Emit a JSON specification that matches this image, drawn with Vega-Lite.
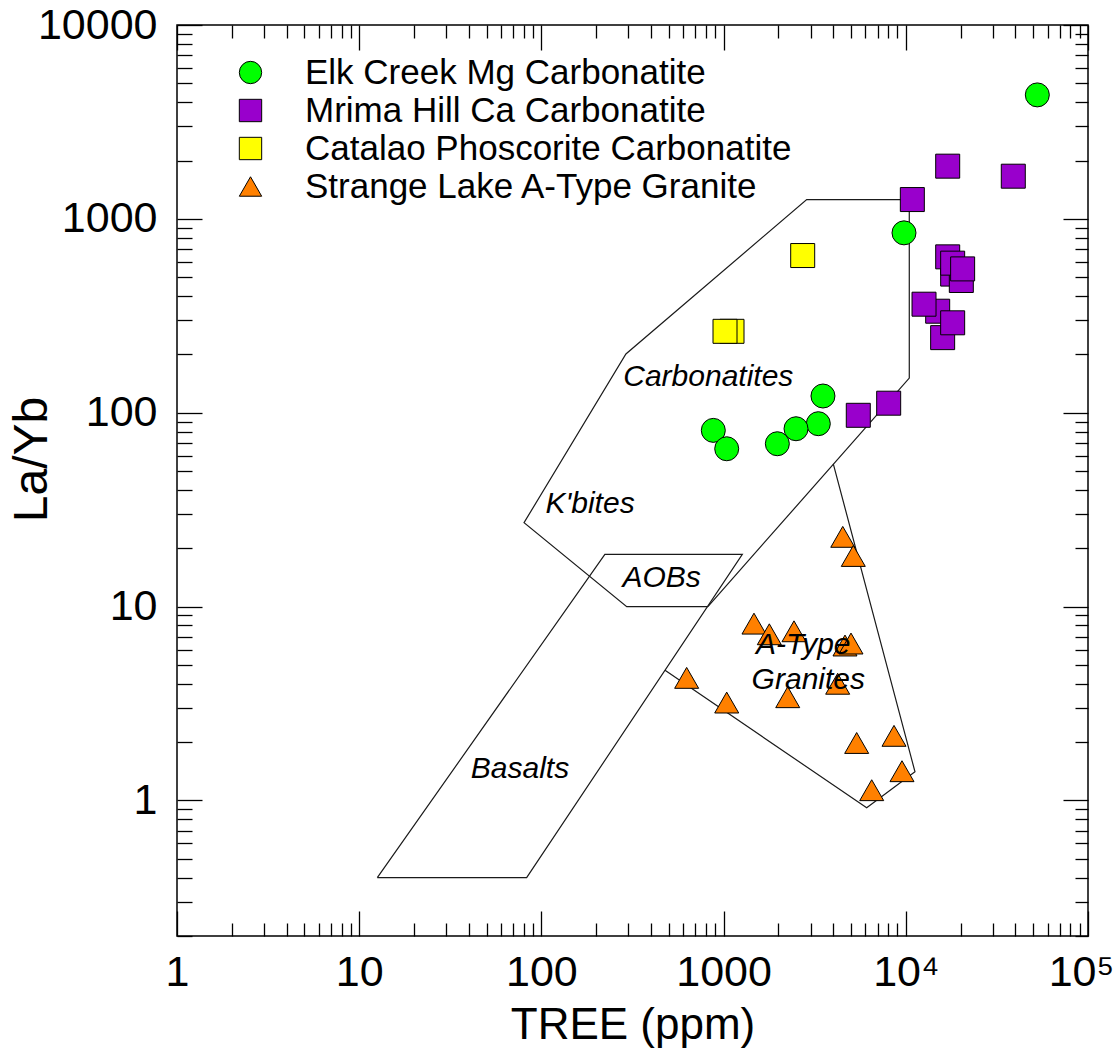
{
  "$schema": "https://vega.github.io/schema/vega-lite/v6.json",
  "width": 911,
  "height": 911,
  "autosize": {"type": "none"},
  "padding": {"left": 177, "top": 25, "right": 31, "bottom": 114},
  "background": "white",
  "config": {
    "font": "Liberation Sans",
    "view": {"stroke": "black", "strokeWidth": 1.5},
    "axis": {"grid": false, "domain": false, "tickColor": "black", "tickWidth": 1.3, "labelFont": "Liberation Sans", "titleFont": "Liberation Sans", "labelColor": "black", "titleColor": "black", "titleFontWeight": "normal", "labelFontSize": 43, "labelFlush": false, "labelOverlap": false},
    "legend": {"orient": "none", "legendX": 56, "legendY": 30, "labelFont": "Liberation Sans", "labelFontSize": 35, "labelColor": "black", "symbolSize": 500, "symbolStrokeColor": "black", "symbolStrokeWidth": 1, "rowPadding": 2, "labelOffset": 37, "padding": 0, "labelLimit": 0}
  },
  "datasets": {
    "outlines": [
      {"poly": "field", "i": 0, "TREE": 820, "LaYb": 10},
      {"poly": "field", "i": 1, "TREE": 10450, "LaYb": 151},
      {"poly": "field", "i": 2, "TREE": 10450, "LaYb": 1257},
      {"poly": "field", "i": 3, "TREE": 2858, "LaYb": 1257},
      {"poly": "field", "i": 4, "TREE": 291, "LaYb": 201},
      {"poly": "field", "i": 5, "TREE": 80.3, "LaYb": 27.1},
      {"poly": "field", "i": 6, "TREE": 294, "LaYb": 10},
      {"poly": "field", "i": 7, "TREE": 820, "LaYb": 10},
      {"poly": "basalts", "i": 0, "TREE": 12.57, "LaYb": 0.4},
      {"poly": "basalts", "i": 1, "TREE": 83, "LaYb": 0.4},
      {"poly": "basalts", "i": 2, "TREE": 1267, "LaYb": 18.6},
      {"poly": "basalts", "i": 3, "TREE": 223, "LaYb": 18.6},
      {"poly": "basalts", "i": 4, "TREE": 12.57, "LaYb": 0.4},
      {"poly": "atype", "i": 0, "TREE": 4000, "LaYb": 54.5},
      {"poly": "atype", "i": 1, "TREE": 11230, "LaYb": 1.406},
      {"poly": "atype", "i": 2, "TREE": 6100, "LaYb": 0.917},
      {"poly": "atype", "i": 3, "TREE": 477, "LaYb": 4.69}
    ],
    "samples": [
      {"group": "Elk Creek Mg Carbonatite", "TREE": 52700, "LaYb": 4360},
      {"group": "Elk Creek Mg Carbonatite", "TREE": 9775, "LaYb": 847},
      {"group": "Elk Creek Mg Carbonatite", "TREE": 3510, "LaYb": 122},
      {"group": "Elk Creek Mg Carbonatite", "TREE": 3310, "LaYb": 87.8},
      {"group": "Elk Creek Mg Carbonatite", "TREE": 2497, "LaYb": 82.7},
      {"group": "Elk Creek Mg Carbonatite", "TREE": 1972, "LaYb": 69.2},
      {"group": "Elk Creek Mg Carbonatite", "TREE": 878, "LaYb": 81.1},
      {"group": "Elk Creek Mg Carbonatite", "TREE": 1040, "LaYb": 65.2},
      {"group": "Mrima Hill Ca Carbonatite", "TREE": 16980, "LaYb": 1870},
      {"group": "Mrima Hill Ca Carbonatite", "TREE": 38900, "LaYb": 1660},
      {"group": "Mrima Hill Ca Carbonatite", "TREE": 10860, "LaYb": 1258},
      {"group": "Mrima Hill Ca Carbonatite", "TREE": 18080, "LaYb": 519},
      {"group": "Mrima Hill Ca Carbonatite", "TREE": 20170, "LaYb": 481},
      {"group": "Mrima Hill Ca Carbonatite", "TREE": 16980, "LaYb": 637},
      {"group": "Mrima Hill Ca Carbonatite", "TREE": 18080, "LaYb": 591},
      {"group": "Mrima Hill Ca Carbonatite", "TREE": 20510, "LaYb": 552},
      {"group": "Mrima Hill Ca Carbonatite", "TREE": 14960, "LaYb": 334},
      {"group": "Mrima Hill Ca Carbonatite", "TREE": 15930, "LaYb": 244},
      {"group": "Mrima Hill Ca Carbonatite", "TREE": 12590, "LaYb": 363},
      {"group": "Mrima Hill Ca Carbonatite", "TREE": 18080, "LaYb": 291},
      {"group": "Mrima Hill Ca Carbonatite", "TREE": 8055, "LaYb": 112},
      {"group": "Mrima Hill Ca Carbonatite", "TREE": 5486, "LaYb": 97},
      {"group": "Catalao Phoscorite Carbonatite", "TREE": 2717, "LaYb": 647},
      {"group": "Catalao Phoscorite Carbonatite", "TREE": 1112, "LaYb": 263},
      {"group": "Catalao Phoscorite Carbonatite", "TREE": 1018, "LaYb": 263},
      {"group": "Strange Lake A-Type Granite", "TREE": 4508, "LaYb": 22.9},
      {"group": "Strange Lake A-Type Granite", "TREE": 5150, "LaYb": 18.25},
      {"group": "Strange Lake A-Type Granite", "TREE": 1468, "LaYb": 8.17},
      {"group": "Strange Lake A-Type Granite", "TREE": 1782, "LaYb": 7.2},
      {"group": "Strange Lake A-Type Granite", "TREE": 2434, "LaYb": 7.46},
      {"group": "Strange Lake A-Type Granite", "TREE": 4637, "LaYb": 6.3},
      {"group": "Strange Lake A-Type Granite", "TREE": 5003, "LaYb": 6.45},
      {"group": "Strange Lake A-Type Granite", "TREE": 627, "LaYb": 4.29},
      {"group": "Strange Lake A-Type Granite", "TREE": 1040, "LaYb": 3.2},
      {"group": "Strange Lake A-Type Granite", "TREE": 2249, "LaYb": 3.41},
      {"group": "Strange Lake A-Type Granite", "TREE": 4228, "LaYb": 4.0},
      {"group": "Strange Lake A-Type Granite", "TREE": 5375, "LaYb": 1.98},
      {"group": "Strange Lake A-Type Granite", "TREE": 8616, "LaYb": 2.155},
      {"group": "Strange Lake A-Type Granite", "TREE": 9530, "LaYb": 1.416},
      {"group": "Strange Lake A-Type Granite", "TREE": 6500, "LaYb": 1.13}
    ],
    "fields": [
      {"label": "Carbonatites", "TREE": 824, "LaYb": 152.8},
      {"label": "K'bites", "TREE": 185, "LaYb": 34},
      {"label": "AOBs", "TREE": 457, "LaYb": 14.06},
      {"label": "A-Type", "TREE": 2738, "LaYb": 6.32},
      {"label": "Granites", "TREE": 2917, "LaYb": 4.17},
      {"label": "Basalts", "TREE": 76.3, "LaYb": 1.46}
    ]
  },
  "resolve": {"axis": {"x": "independent", "y": "independent"}},
  "layer": [
    {
      "data": {"name": "outlines"},
      "transform": [{"filter": "datum.poly == 'field'"}],
      "mark": {"type": "line", "color": "#1a1a1a", "strokeWidth": 1.2},
      "encoding": {
        "x": {"field": "TREE", "type": "quantitative", "scale": {"type": "log", "domain": [1, 100000], "nice": false},
          "axis": {"orient": "bottom", "values": [1, 10, 100, 1000, 10000, 100000], "tickSize": -25, "labelPadding": 40,
            "labelOffset": {"condition": {"test": "datum.value == 100000", "value": -7}, "value": 0},
            "labelExpr": "datum.value == 10000 ? '10⁴' : datum.value == 100000 ? '10⁵' : format(datum.value, 'd')",
            "title": "TREE (ppm)", "titleFontSize": 44, "titleY": 102, "titleBaseline": "alphabetic"}},
        "y": {"field": "LaYb", "type": "quantitative", "scale": {"type": "log", "domain": [0.2, 10000], "nice": false},
          "axis": {"orient": "left", "values": [1, 10, 100, 1000, 10000], "tickSize": -25, "labelPadding": 45,
            "labelExpr": "format(datum.value, 'd')",
            "title": "La/Yb", "titleFontSize": 48, "titleX": -145, "titleY": 434, "titleAngle": -90, "titleAlign": "center", "titleBaseline": "middle"}},
        "detail": {"field": "poly", "type": "nominal"},
        "order": {"field": "i", "type": "quantitative"}
      }
    },
    {
      "data": {"name": "outlines"},
      "transform": [{"filter": "datum.poly != 'field'"}],
      "mark": {"type": "line", "color": "#1a1a1a", "strokeWidth": 1.2},
      "encoding": {
        "x": {"field": "TREE", "type": "quantitative", "scale": {"type": "log", "domain": [1, 100000], "nice": false},
          "axis": {"orient": "bottom", "values": [2, 3, 4, 5, 6, 7, 8, 9, 20, 30, 40, 50, 60, 70, 80, 90, 200, 300, 400, 500, 600, 700, 800, 900, 2000, 3000, 4000, 5000, 6000, 7000, 8000, 9000, 20000, 30000, 40000, 50000, 60000, 70000, 80000, 90000], "tickSize": -13, "labels": false, "title": null}},
        "y": {"field": "LaYb", "type": "quantitative", "scale": {"type": "log", "domain": [0.2, 10000], "nice": false},
          "axis": {"orient": "left", "values": [0.2, 0.3, 0.4, 0.5, 0.6, 0.7, 0.8, 0.9, 2, 3, 4, 5, 6, 7, 8, 9, 20, 30, 40, 50, 60, 70, 80, 90, 200, 300, 400, 500, 600, 700, 800, 900, 2000, 3000, 4000, 5000, 6000, 7000, 8000, 9000], "tickSize": -15, "labels": false, "title": null}},
        "detail": {"field": "poly", "type": "nominal"},
        "order": {"field": "i", "type": "quantitative"}
      }
    },
    {
      "data": {"name": "samples"},
      "mark": {"type": "point", "filled": true, "size": 576, "stroke": "black", "strokeWidth": 1, "opacity": 1},
      "encoding": {
        "x": {"field": "TREE", "type": "quantitative", "scale": {"type": "log", "domain": [1, 100000], "nice": false},
          "axis": {"orient": "top", "values": [1, 10, 100, 1000, 10000, 100000], "tickSize": -25, "labels": false, "title": null}},
        "y": {"field": "LaYb", "type": "quantitative", "scale": {"type": "log", "domain": [0.2, 10000], "nice": false},
          "axis": {"orient": "right", "values": [1, 10, 100, 1000, 10000], "tickSize": -25, "labels": false, "title": null}},
        "color": {"field": "group", "type": "nominal",
          "scale": {"domain": ["Elk Creek Mg Carbonatite", "Mrima Hill Ca Carbonatite", "Catalao Phoscorite Carbonatite", "Strange Lake A-Type Granite"], "range": ["#00FF00", "#9900CC", "#FFFF00", "#FF8000"]},
          "legend": {"title": null}},
        "shape": {"field": "group", "type": "nominal",
          "scale": {"domain": ["Elk Creek Mg Carbonatite", "Mrima Hill Ca Carbonatite", "Catalao Phoscorite Carbonatite", "Strange Lake A-Type Granite"], "range": ["circle", "square", "square", "M0,-0.87L1,0.87L-1,0.87Z"]},
          "legend": {"title": null}}
      }
    },
    {
      "data": {"name": "fields"},
      "mark": {"type": "text", "font": "Liberation Sans", "fontStyle": "italic", "fontSize": 30, "align": "center", "baseline": "middle", "color": "black"},
      "encoding": {
        "x": {"field": "TREE", "type": "quantitative", "scale": {"type": "log", "domain": [1, 100000], "nice": false},
          "axis": {"orient": "top", "values": [2, 3, 4, 5, 6, 7, 8, 9, 20, 30, 40, 50, 60, 70, 80, 90, 200, 300, 400, 500, 600, 700, 800, 900, 2000, 3000, 4000, 5000, 6000, 7000, 8000, 9000, 20000, 30000, 40000, 50000, 60000, 70000, 80000, 90000], "tickSize": -13, "labels": false, "title": null}},
        "y": {"field": "LaYb", "type": "quantitative", "scale": {"type": "log", "domain": [0.2, 10000], "nice": false},
          "axis": {"orient": "right", "values": [0.2, 0.3, 0.4, 0.5, 0.6, 0.7, 0.8, 0.9, 2, 3, 4, 5, 6, 7, 8, 9, 20, 30, 40, 50, 60, 70, 80, 90, 200, 300, 400, 500, 600, 700, 800, 900, 2000, 3000, 4000, 5000, 6000, 7000, 8000, 9000], "tickSize": -13, "labels": false, "title": null}},
        "text": {"field": "label", "type": "nominal"}
      }
    }
  ]
}
